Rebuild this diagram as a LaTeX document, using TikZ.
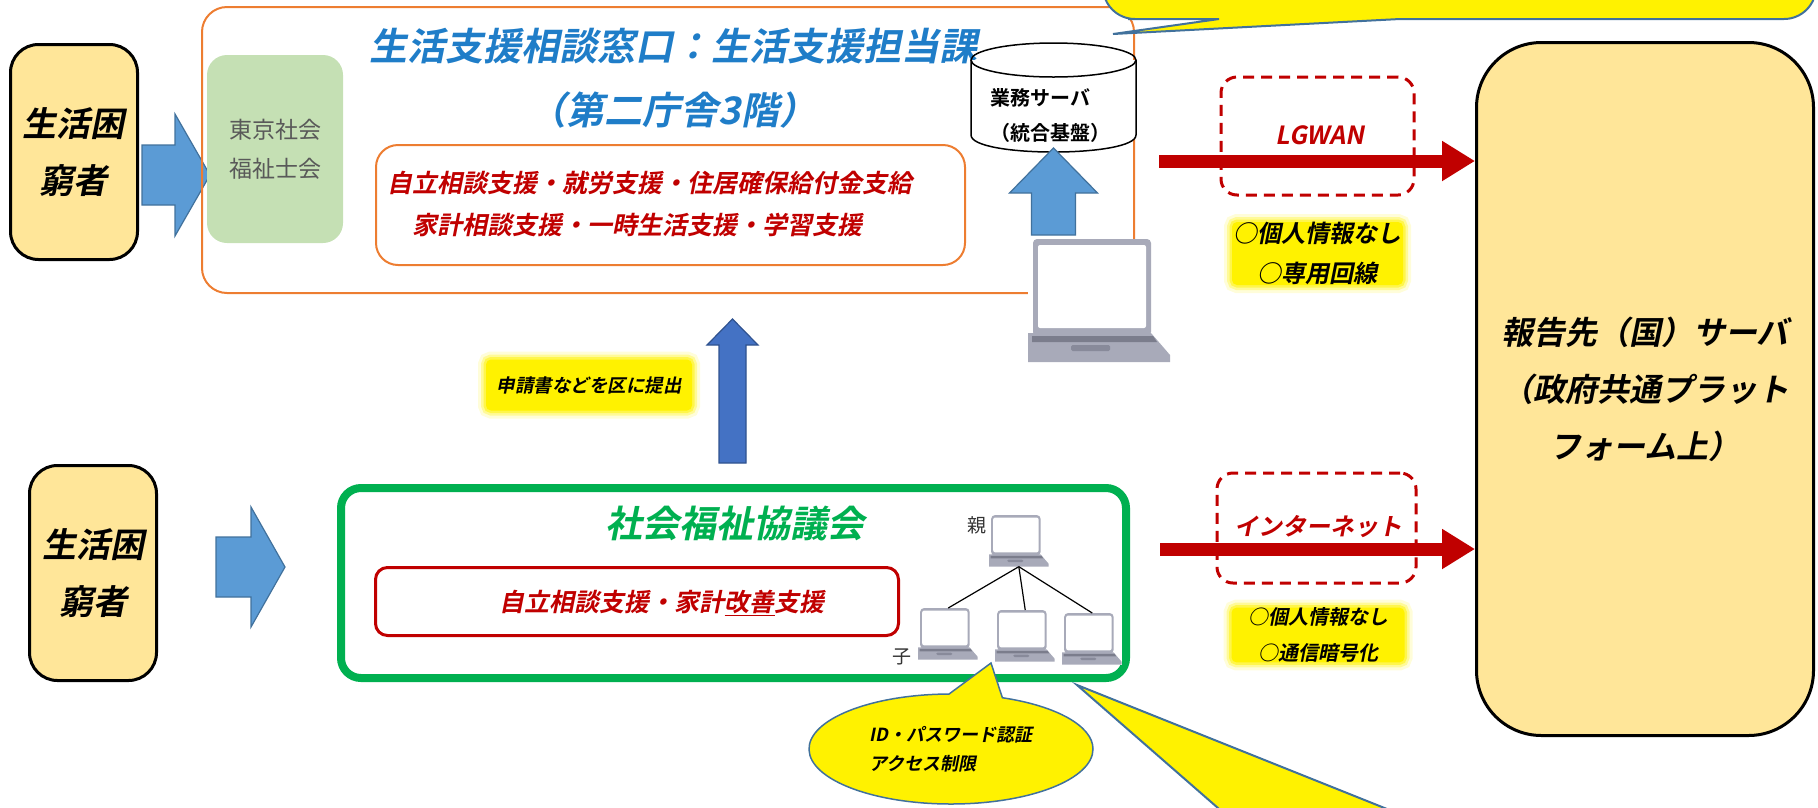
\documentclass[tikz,border=0pt]{standalone}
\usepackage{fontspec}
\setmainfont{Noto Sans CJK JP}[
    ItalicFont=Noto Sans CJK JP, ItalicFeatures={FakeSlant=0.2},
    BoldFont=Noto Sans CJK JP Bold,
    BoldItalicFont=Noto Sans CJK JP Bold, BoldItalicFeatures={FakeSlant=0.2}]
\usepackage{tikz}
\usetikzlibrary{arrows.meta,calc,shapes.geometric,shapes.callouts}

\definecolor{poorfill}{HTML}{FFE699}
\definecolor{orangeline}{HTML}{ED7D31}
\definecolor{sfgreen}{HTML}{C5E0B4}
\definecolor{sgreen}{HTML}{00B050}
\definecolor{darkred}{HTML}{C00000}
\definecolor{txtgray}{HTML}{595959}
\definecolor{titleblue}{RGB}{31,125,200}
\definecolor{arrowblue}{HTML}{5B9BD5}
\definecolor{arrowline}{HTML}{41719C}
\definecolor{arrowdark}{HTML}{4472C4}
\definecolor{arrowdarkline}{HTML}{2F528F}
\definecolor{balloonline}{HTML}{41719C}
\definecolor{lapgray}{HTML}{A8AAB9}
\definecolor{lapdark}{HTML}{7B7D8C}

\newcommand\fsz[2]{\fontsize{#1}{#2}\selectfont}

% block arrow: [style]{start}{tip}{half shaft}{half head}{head length}
\newcommand\fatarrow[6][]{%
  \coordinate (fa-hb) at ($(#3)!#6!(#2)$);
  \draw[#1] ($(#2)!#4!90:(#3)$) -- ($(fa-hb)!#4!90:(#3)$) -- ($(fa-hb)!#5!90:(#3)$) -- (#3)
    -- ($(fa-hb)!#5!-90:(#3)$) -- ($(fa-hb)!#4!-90:(#3)$) -- ($(#2)!#4!-90:(#3)$) -- cycle;
}

\tikzset{
  laptop/.pic={
    \fill[white] (0,0) rectangle (142,123);
    \fill[lapgray, rounded corners=4pt] (5,0) rectangle (123,97);
    \fill[white, rounded corners=2pt] (10,6) rectangle (118,89);
    \fill[lapgray] (0,94) -- (123,94) -- (142,116) -- (142,123) -- (0,123) -- cycle;
    \fill[lapdark] (4,97) -- (125,97) -- (129,103) -- (4,103) -- cycle;
    \fill[lapdark!70!lapgray, rounded corners=1.5pt] (43,106) rectangle (82,112);
    \coordinate (-top) at (72,0);
    \coordinate (-bot) at (71,123);
  }
}

\begin{document}
\begin{tikzpicture}[
        x=1pt, y=-1pt, % pixel grid, y goes down
        every node/.style={inner sep=0pt},
        poor/.style={draw=black, line width=3pt, fill=poorfill, rounded corners=28pt,
            minimum width=127pt, minimum height=215pt,
            font=\fsz{34}{57}\bfseries\itshape, align=center},
        bluearrow/.style={fill=arrowblue, draw=arrowline, line width=1.2pt},
        darkarrow/.style={fill=arrowdark, draw=arrowdarkline, line width=1.2pt},
        redarrow/.style={draw=darkred, line width=13pt, -{Triangle[length=33pt,width=38pt]}},
        netbox/.style={draw=darkred, line width=3pt, dash pattern=on 11pt off 7pt, rounded corners=16pt},
        balloon/.style={fill=yellow, draw=balloonline, line width=2pt}
    ]

    \tikzset{hilite/.style={fill=yellow, rounded corners=5pt,
        preaction={draw=yellow, line width=16pt, draw opacity=.15},
        preaction={draw=yellow, line width=10pt, draw opacity=.3},
        preaction={draw=yellow, line width=5pt, draw opacity=.5}}}

    \useasboundingbox (0,0) rectangle (1818,807);
    \clip (0,0) rectangle (1818,807);

    % people on the left
    \node[poor] (poor1) at (74,152) {生活困\\窮者};
    \node[poor] (poor2) at (93,573) {生活困\\窮者};

    \coordinate (a1s) at (142,175);
    \coordinate (a1e) at (210,175);
    \fatarrow[bluearrow]{a1s}{a1e}{30pt}{61pt}{35pt}
    \coordinate (a2s) at (216,567);
    \coordinate (a2e) at (285,567);
    \fatarrow[bluearrow]{a2s}{a2e}{30pt}{60pt}{34pt}

    % ward office
    \node[draw=orangeline, line width=2pt, rounded corners=25pt,
        minimum width=932pt, minimum height=286pt] (ward) at (668,150) {};
    \node[fill=sfgreen, rounded corners=20pt, minimum width=136pt, minimum height=188pt,
        text=txtgray, font=\fsz{23}{39}, align=center] (tokyo) at (275,149) {東京社会\\福祉士会};
    \node[font=\fsz{38}{64}\bfseries\itshape, text=titleblue, align=center] (wardttl) at (673,78)
        {生活支援相談窓口：生活支援担当課\\（第二庁舎3階）};
    \node[draw=orangeline, line width=2pt, rounded corners=22pt,
        minimum width=589pt, minimum height=120pt] (wardsvc) at (670.5,205) {};
    \node[font=\fsz{25}{42}\bfseries\itshape, text=darkred, align=left] (wardsvctxt) at (650,204)
        {自立相談支援・就労支援・住居確保給付金支給\\　家計相談支援・一時生活支援・学習支援};

    % server drum
    \filldraw[fill=white, line width=1.5pt] (971,60) -- (971,135)
        .. controls (971,157.7) and (1136,157.7) .. (1136,135) -- (1136,60);
    \draw[line width=1.5pt] (1053.5,60) ellipse [x radius=82.5, y radius=17];
    \node[font=\fsz{20}{35}\bfseries, align=left, anchor=west] (srv) at (990,115)
        {業務サーバ\\（統合基盤）};

    \pic (pc) at (1028,239) {laptop};
    \coordinate (upS) at (1053.5,235);
    \coordinate (srvbot) at (1053.5,148);
    \fatarrow[bluearrow]{upS}{srvbot}{22pt}{44pt}{45pt}

    % note box at the top
    \filldraw[balloon] (1103,-60) [rounded corners=32pt] -- (1103,19) -- (1160,19) [sharp corners]
        -- (1219,19) -- (1113,34) -- (1400,19) -- (1760,19) [rounded corners=32pt] -- (1816,19) -- (1816,-60);

    % report server
    \node[draw=black, line width=3pt, fill=poorfill, rounded corners=65pt,
        minimum width=337pt, minimum height=693pt,
        font=\fsz{32}{57}\bfseries\itshape, align=center] (report) at (1645,389)
        {報告先（国）サーバ\\（政府共通プラット\\フォーム上）};

    % LGWAN line
    \node[netbox, minimum width=193pt, minimum height=118pt] (lgbox) at (1317.5,136) {};
    \coordinate (lgS) at (1159,161);
    \draw[redarrow] (lgS) -- (lgS -| report.west);
    \node[font=\fsz{25}{30}\bfseries\itshape, text=darkred] (lgtxt) at (1320,135) {LGWAN};
    \node[hilite, minimum width=171pt, minimum height=63pt,
        font=\fsz{24}{40}\bfseries\itshape, align=center] (lgnote) at (1317.5,253.5)
        {○個人情報なし\\○専用回線};

    % internet line
    \node[netbox, minimum width=199pt, minimum height=110pt] (netbox) at (1316.5,528) {};
    \coordinate (netS) at (1160,549);
    \draw[redarrow] (netS) -- (netS -| report.west);
    \node[font=\fsz{24}{30}\bfseries\itshape, text=darkred] (nettxt) at (1318,527) {インターネット};
    \node[hilite, minimum width=173pt, minimum height=52pt,
        font=\fsz{20}{36}\bfseries\itshape, align=center] (netnote) at (1318,635)
        {○個人情報なし\\○通信暗号化};

    % submission
    \node[hilite, minimum width=206pt, minimum height=51pt,
        font=\fsz{18.5}{24}\bfseries\itshape] (shinsei) at (589,385) {申請書などを区に提出};
    \coordinate (upS2) at (732.5,463);
    \coordinate (upE2) at (732.5,319);
    \fatarrow[darkarrow]{upS2}{upE2}{13.5pt}{25.5pt}{26pt}

    % council
    \node[draw=sgreen, line width=8pt, rounded corners=20pt,
        minimum width=785pt, minimum height=190pt] (shakyo) at (733.5,583) {};
    \node[font=\fsz{37}{40}\bfseries\itshape, text=sgreen] (shakyottl) at (735,524) {社会福祉協議会};
    \node[draw=darkred, line width=3pt, rounded corners=12pt,
        minimum width=523pt, minimum height=68pt] (shakyosvc) at (637,601.5) {};
    \node[font=\fsz{25}{30}\bfseries\itshape, text=darkred] (shakyosvctxt) at (662,603)
        {自立相談支援・家計\underline{改善}支援};

    \pic[scale=.42] (par) at (989,515) {laptop};
    \foreach \n/\x/\y in {c1/918/608, c2/995/610, c3/1062/613}
        \pic[scale=.42] (\n) at (\x,\y) {laptop};
    \foreach \n in {c1,c2,c3}
        \draw[line width=1.2pt] (par-bot) -- (\n-top);
    \node[font=\fsz{19}{20}, text=black!80] (oya) at (977,525) {親};
    \node[font=\fsz{19}{20}, text=black!80] (ko) at (902,657) {子};

    % call-outs under the council box
    \coordinate (authTip) at (991,663);
    \node[ellipse callout, callout absolute pointer={(authTip)}, callout pointer arc=22,
        fill=yellow, draw=balloonline, line width=1.5pt,
        minimum width=284pt, minimum height=110pt,
        font=\fsz{18}{29}\bfseries\itshape, align=left] (auth) at (951,749)
        {ID・パスワード認証\\アクセス制限};
    \coordinate (sayTip) at (1077,685);
    \filldraw[balloon] (1226,815) -- (sayTip) -- (1402,815);
\end{tikzpicture}
\end{document}
